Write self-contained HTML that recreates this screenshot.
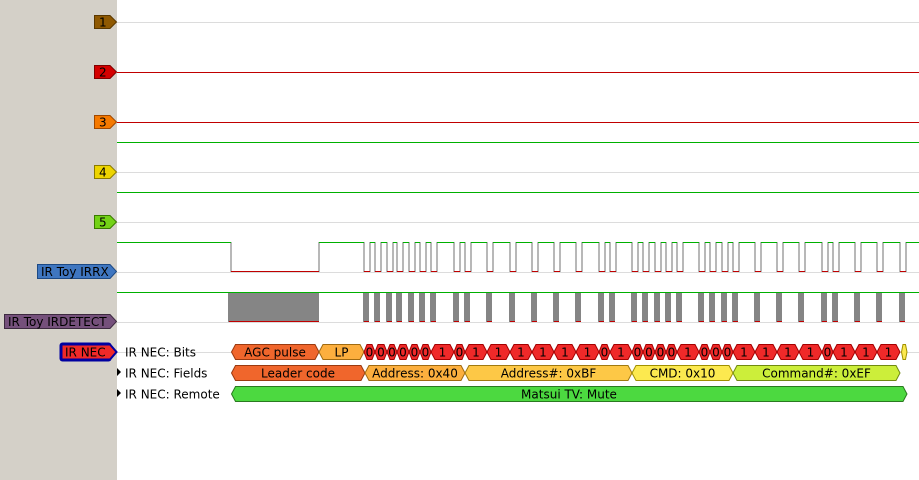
<!DOCTYPE html>
<html><head><meta charset="utf-8"><style>
html,body{margin:0;padding:0;background:#fff;}
svg{display:block;font-family:"DejaVu Sans","Liberation Sans",sans-serif;}
</style></head><body>
<svg width="919" height="480" viewBox="0 0 919 480" xmlns="http://www.w3.org/2000/svg">
<rect x="0" y="0" width="919" height="480" fill="#fff"/>
<rect x="0" y="0" width="117" height="480" fill="#d4d0c8"/>
<!-- grid lines -->
<g stroke="#dcdcdc" stroke-width="1">
<line x1="117" y1="22.5" x2="919" y2="22.5"/>
<line x1="117" y1="172.5" x2="919" y2="172.5"/>
<line x1="117" y1="222.5" x2="919" y2="222.5"/>
<line x1="117" y1="272.5" x2="919" y2="272.5"/>
<line x1="117" y1="322.5" x2="919" y2="322.5"/>
<line x1="117" y1="352.5" x2="919" y2="352.5"/>
</g>
<g stroke-width="1">
<line x1="117" y1="72.5" x2="919" y2="72.5" stroke="#c00000"/>
<line x1="117" y1="122.5" x2="919" y2="122.5" stroke="#c00000"/>
<line x1="117" y1="142.5" x2="919" y2="142.5" stroke="#00b000"/>
<line x1="117" y1="192.5" x2="919" y2="192.5" stroke="#00b000"/>
</g>
<!-- channel labels -->
<g font-size="12" stroke-width="1">
<polygon points="94.5,15.5 110,15.5 116.5,22 110,28.5 94.5,28.5" fill="#8f5902" stroke="#5a3800"/>
<text x="99" y="26.5" fill="#000">1</text>
<polygon points="94.5,65.5 110,65.5 116.5,72 110,78.5 94.5,78.5" fill="#d40000" stroke="#800000"/>
<text x="99" y="76.5" fill="#000">2</text>
<polygon points="94.5,115.5 110,115.5 116.5,122 110,128.5 94.5,128.5" fill="#f57900" stroke="#a04800"/>
<text x="99" y="126.5" fill="#000">3</text>
<polygon points="94.5,165.5 110,165.5 116.5,172 110,178.5 94.5,178.5" fill="#edd400" stroke="#8a7a00"/>
<text x="99" y="176.5" fill="#000">4</text>
<polygon points="94.5,215.5 110,215.5 116.5,222 110,228.5 94.5,228.5" fill="#73d216" stroke="#3a7a00"/>
<text x="99" y="226.5" fill="#000">5</text>
<polygon points="37.5,264.5 110,264.5 116.5,271.5 110,278.5 37.5,278.5" fill="#3f76c0" stroke="#1d4a85"/>
<text x="41" y="276" fill="#000">IR Toy IRRX</text>
<polygon points="4.5,314.5 110,314.5 116.5,321.5 110,328.5 4.5,328.5" fill="#75507b" stroke="#3d2a40"/>
<text x="8" y="326" fill="#000">IR Toy IRDETECT</text>
<rect x="59.5" y="342.5" width="52" height="19" rx="3" fill="#0000a0"/>
<polygon points="61.5,344.5 110,344.5 116.5,352 110,359.5 61.5,359.5" fill="#ef2929" stroke="#0000a0" stroke-width="2"/>
<text x="65" y="356.5" fill="#000">IR NEC</text>
</g>
<!-- IRRX -->
<path fill="none" stroke="#a0a0a0" stroke-width="1.5" d="M231,242V272 M319,242V272 M364,242V272M370,242V272 M375,242V272M381,242V272 M387,242V272M393,242V272 M397,242V272M403,242V272 M409,242V272M415,242V272 M420,242V272M426,242V272 M431,242V272M437,242V272 M454,242V272M460,242V272 M465,242V272M471,242V272 M487,242V272M493,242V272 M510,242V272M516,242V272 M532,242V272M538,242V272 M554,242V272M560,242V272 M576,242V272M582,242V272 M599,242V272M605,242V272 M610,242V272M616,242V272 M632,242V272M638,242V272 M643,242V272M649,242V272 M655,242V272M661,242V272 M666,242V272M672,242V272 M677,242V272M683,242V272 M699,242V272M705,242V272 M710,242V272M716,242V272 M722,242V272M728,242V272 M733,242V272M739,242V272 M755,242V272M761,242V272 M777,242V272M783,242V272 M799,242V272M805,242V272 M822,242V272M828,242V272 M833,242V272M839,242V272 M855,242V272M861,242V272 M877,242V272M883,242V272 M900,242V272M906,242V272"/>
<path fill="none" stroke="#00b000" stroke-width="1" d="M117,242.5H231 M319,242.5H364 M370,242.5H375 M381,242.5H387 M393,242.5H397 M403,242.5H409 M415,242.5H420 M426,242.5H431 M437,242.5H454 M460,242.5H465 M471,242.5H487 M493,242.5H510 M516,242.5H532 M538,242.5H554 M560,242.5H576 M582,242.5H599 M605,242.5H610 M616,242.5H632 M638,242.5H643 M649,242.5H655 M661,242.5H666 M672,242.5H677 M683,242.5H699 M705,242.5H710 M716,242.5H722 M728,242.5H733 M739,242.5H755 M761,242.5H777 M783,242.5H799 M805,242.5H822 M828,242.5H833 M839,242.5H855 M861,242.5H877 M883,242.5H900 M906,242.5H919"/>
<path fill="none" stroke="#c00000" stroke-width="1" d="M231,271.5H319 M364,271.5H370 M375,271.5H381 M387,271.5H393 M397,271.5H403 M409,271.5H415 M420,271.5H426 M431,271.5H437 M454,271.5H460 M465,271.5H471 M487,271.5H493 M510,271.5H516 M532,271.5H538 M554,271.5H560 M576,271.5H582 M599,271.5H605 M610,271.5H616 M632,271.5H638 M643,271.5H649 M655,271.5H661 M666,271.5H672 M677,271.5H683 M699,271.5H705 M710,271.5H716 M722,271.5H728 M733,271.5H739 M755,271.5H761 M777,271.5H783 M799,271.5H805 M822,271.5H828 M833,271.5H839 M855,271.5H861 M877,271.5H883 M900,271.5H906"/>
<!-- IRDETECT -->
<line x1="117" y1="292.5" x2="919" y2="292.5" stroke="#00b000"/>
<rect x="228" y="293" width="91" height="29" fill="#858585"/>
<g fill="#858585">
<rect x="363" y="293" width="6" height="29"/><rect x="374" y="293" width="6" height="29"/><rect x="386" y="293" width="6" height="29"/><rect x="396" y="293" width="6" height="29"/><rect x="408" y="293" width="6" height="29"/><rect x="419" y="293" width="6" height="29"/><rect x="430" y="293" width="6" height="29"/><rect x="453" y="293" width="6" height="29"/><rect x="464" y="293" width="6" height="29"/><rect x="486" y="293" width="6" height="29"/><rect x="509" y="293" width="6" height="29"/><rect x="531" y="293" width="6" height="29"/><rect x="553" y="293" width="6" height="29"/><rect x="575" y="293" width="6" height="29"/><rect x="598" y="293" width="6" height="29"/><rect x="609" y="293" width="6" height="29"/><rect x="631" y="293" width="6" height="29"/><rect x="642" y="293" width="6" height="29"/><rect x="654" y="293" width="6" height="29"/><rect x="665" y="293" width="6" height="29"/><rect x="676" y="293" width="6" height="29"/><rect x="698" y="293" width="6" height="29"/><rect x="709" y="293" width="6" height="29"/><rect x="721" y="293" width="6" height="29"/><rect x="732" y="293" width="6" height="29"/><rect x="754" y="293" width="6" height="29"/><rect x="776" y="293" width="6" height="29"/><rect x="798" y="293" width="6" height="29"/><rect x="821" y="293" width="6" height="29"/><rect x="832" y="293" width="6" height="29"/><rect x="854" y="293" width="6" height="29"/><rect x="876" y="293" width="6" height="29"/><rect x="899" y="293" width="6" height="29"/>
</g>
<path fill="none" stroke="#c00000" stroke-width="1" d="M229,321.5H319 M364,321.5H369 M375,321.5H380 M387,321.5H392 M397,321.5H402 M409,321.5H414 M420,321.5H425 M431,321.5H436 M454,321.5H459 M465,321.5H470 M487,321.5H492 M510,321.5H515 M532,321.5H537 M554,321.5H559 M576,321.5H581 M599,321.5H604 M610,321.5H615 M632,321.5H637 M643,321.5H648 M655,321.5H660 M666,321.5H671 M677,321.5H682 M699,321.5H704 M710,321.5H715 M722,321.5H727 M733,321.5H738 M755,321.5H760 M777,321.5H782 M799,321.5H804 M822,321.5H827 M833,321.5H838 M855,321.5H860 M877,321.5H882 M900,321.5H905"/>
<!-- decoder row labels -->
<g font-size="12" fill="#000">
<text x="125" y="356.5">IR NEC: Bits</text>
<polygon points="117,368 121,372 117,376"/>
<text x="125" y="377.5">IR NEC: Fields</text>
<polygon points="117,389 121,393 117,397"/>
<text x="125" y="398.5">IR NEC: Remote</text>
</g>
<!-- Bits row -->
<g stroke-width="1" font-size="12">
<polygon points="231.5,352 235.5,344.5 315,344.5 319,352 315,359.5 235.5,359.5" fill="#f0662c" stroke="#9a3a10"/>
<text x="275" y="356.5" text-anchor="middle">AGC pulse</text>
<polygon points="319,352 323,344.5 360,344.5 364,352 360,359.5 323,359.5" fill="#fcaf3e" stroke="#a06a10"/>
<text x="341.5" y="356.5" text-anchor="middle">LP</text>
<g fill="#ef2929" stroke="#a40000">
<polygon points="364,352 367,344.5 372,344.5 375,352 372,359.5 367,359.5"/>
<polygon points="375,352 378,344.5 384,344.5 387,352 384,359.5 378,359.5"/>
<polygon points="387,352 390,344.5 394,344.5 397,352 394,359.5 390,359.5"/>
<polygon points="397,352 400,344.5 406,344.5 409,352 406,359.5 400,359.5"/>
<polygon points="409,352 412,344.5 417,344.5 420,352 417,359.5 412,359.5"/>
<polygon points="420,352 423,344.5 428,344.5 431,352 428,359.5 423,359.5"/>
<polygon points="431,352 435,344.5 450,344.5 454,352 450,359.5 435,359.5"/>
<polygon points="454,352 457,344.5 462,344.5 465,352 462,359.5 457,359.5"/>
<polygon points="465,352 469,344.5 483,344.5 487,352 483,359.5 469,359.5"/>
<polygon points="487,352 491,344.5 506,344.5 510,352 506,359.5 491,359.5"/>
<polygon points="510,352 514,344.5 528,344.5 532,352 528,359.5 514,359.5"/>
<polygon points="532,352 536,344.5 550,344.5 554,352 550,359.5 536,359.5"/>
<polygon points="554,352 558,344.5 572,344.5 576,352 572,359.5 558,359.5"/>
<polygon points="576,352 580,344.5 595,344.5 599,352 595,359.5 580,359.5"/>
<polygon points="599,352 602,344.5 607,344.5 610,352 607,359.5 602,359.5"/>
<polygon points="610,352 614,344.5 628,344.5 632,352 628,359.5 614,359.5"/>
<polygon points="632,352 635,344.5 640,344.5 643,352 640,359.5 635,359.5"/>
<polygon points="643,352 646,344.5 652,344.5 655,352 652,359.5 646,359.5"/>
<polygon points="655,352 658,344.5 663,344.5 666,352 663,359.5 658,359.5"/>
<polygon points="666,352 669,344.5 674,344.5 677,352 674,359.5 669,359.5"/>
<polygon points="677,352 681,344.5 695,344.5 699,352 695,359.5 681,359.5"/>
<polygon points="699,352 702,344.5 707,344.5 710,352 707,359.5 702,359.5"/>
<polygon points="710,352 713,344.5 719,344.5 722,352 719,359.5 713,359.5"/>
<polygon points="722,352 725,344.5 730,344.5 733,352 730,359.5 725,359.5"/>
<polygon points="733,352 737,344.5 751,344.5 755,352 751,359.5 737,359.5"/>
<polygon points="755,352 759,344.5 773,344.5 777,352 773,359.5 759,359.5"/>
<polygon points="777,352 781,344.5 795,344.5 799,352 795,359.5 781,359.5"/>
<polygon points="799,352 803,344.5 818,344.5 822,352 818,359.5 803,359.5"/>
<polygon points="822,352 825,344.5 830,344.5 833,352 830,359.5 825,359.5"/>
<polygon points="833,352 837,344.5 851,344.5 855,352 851,359.5 837,359.5"/>
<polygon points="855,352 859,344.5 873,344.5 877,352 873,359.5 859,359.5"/>
<polygon points="877,352 881,344.5 896,344.5 900,352 896,359.5 881,359.5"/>
</g>
<polygon points="901.5,352 903,344.5 905.5,344.5 907,352 905.5,359.5 903,359.5" fill="#fce94f" stroke="#a09000"/>
<g text-anchor="middle">
<text x="369.5" y="356.5">0</text><text x="381" y="356.5">0</text><text x="392" y="356.5">0</text><text x="403" y="356.5">0</text><text x="414.5" y="356.5">0</text><text x="425.5" y="356.5">0</text><text x="442.5" y="356.5">1</text><text x="459.5" y="356.5">0</text><text x="476" y="356.5">1</text><text x="498.5" y="356.5">1</text><text x="521" y="356.5">1</text><text x="543" y="356.5">1</text><text x="565" y="356.5">1</text><text x="587.5" y="356.5">1</text><text x="604.5" y="356.5">0</text><text x="621" y="356.5">1</text><text x="637.5" y="356.5">0</text><text x="649" y="356.5">0</text><text x="660.5" y="356.5">0</text><text x="671.5" y="356.5">0</text><text x="688" y="356.5">1</text><text x="704.5" y="356.5">0</text><text x="716" y="356.5">0</text><text x="727.5" y="356.5">0</text><text x="744" y="356.5">1</text><text x="766" y="356.5">1</text><text x="788" y="356.5">1</text><text x="810.5" y="356.5">1</text><text x="827.5" y="356.5">0</text><text x="844" y="356.5">1</text><text x="866" y="356.5">1</text><text x="888.5" y="356.5">1</text>
</g>
</g>
<!-- Fields row -->
<g stroke-width="1" font-size="12" text-anchor="middle">
<polygon points="231.5,373 235.5,365.5 361,365.5 365,373 361,380.5 235.5,380.5" fill="#f0662c" stroke="#9a3a10"/>
<text x="298" y="377.5">Leader code</text>
<polygon points="365,373 369,365.5 461,365.5 465,373 461,380.5 369,380.5" fill="#fcaf3e" stroke="#a06a10"/>
<text x="415" y="377.5">Address: 0x40</text>
<polygon points="465,373 469,365.5 628,365.5 632,373 628,380.5 469,380.5" fill="#fdc846" stroke="#a07a10"/>
<text x="548.5" y="377.5">Address#: 0xBF</text>
<polygon points="632,373 636,365.5 729,365.5 733,373 729,380.5 636,380.5" fill="#fce94f" stroke="#a09000"/>
<text x="682.5" y="377.5">CMD: 0x10</text>
<polygon points="733,373 737,365.5 896,365.5 900,373 896,380.5 737,380.5" fill="#ccee3a" stroke="#708a10"/>
<text x="816.5" y="377.5">Command#: 0xEF</text>
</g>
<!-- Remote row -->
<g stroke-width="1" font-size="12" text-anchor="middle">
<polygon points="231.5,394 235.5,386.5 903,386.5 907,394 903,401.5 235.5,401.5" fill="#4cd940" stroke="#2a7a20"/>
<text x="569" y="398.5">Matsui TV: Mute</text>
</g>
</svg>
</body></html>
